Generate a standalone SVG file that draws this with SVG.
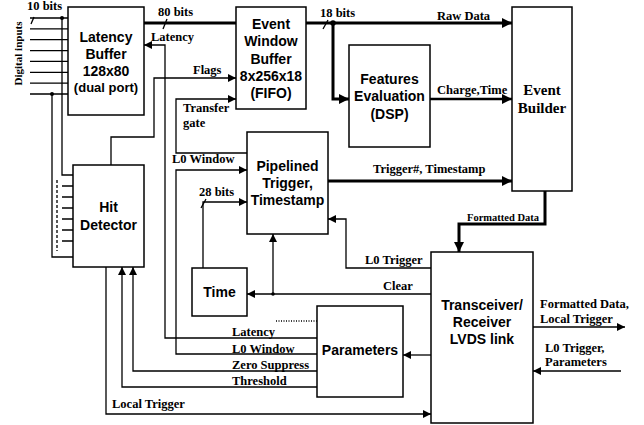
<svg xmlns="http://www.w3.org/2000/svg" width="644" height="425" viewBox="0 0 644 425">
<style>
.box{fill:#fff;stroke:#000;stroke-width:1.5}
.bt{font-family:"Liberation Sans",Arial,sans-serif;font-weight:bold;font-size:14px;text-anchor:middle;fill:#000}
.lb{font-family:"Liberation Serif","Times New Roman",serif;font-weight:bold;font-size:12.5px;fill:#000}
.w{fill:none;stroke:#000;stroke-width:1.3}
.tk{fill:none;stroke:#000;stroke-width:3}
.md{fill:none;stroke:#000;stroke-width:2.3}
</style>
<defs>
<marker id="a" viewBox="0 0 10 10" refX="10" refY="5" markerUnits="userSpaceOnUse" markerWidth="9" markerHeight="8" orient="auto"><path d="M0,0 L10,5 L0,10 z" fill="#000"/></marker>
<marker id="A" viewBox="0 0 10 10" refX="10" refY="5" markerUnits="userSpaceOnUse" markerWidth="12" markerHeight="10" orient="auto"><path d="M0,0 L10,5 L0,10 z" fill="#000"/></marker>
</defs>
<rect width="644" height="425" fill="#fff"/>

<g id="connectors">
  <!-- digital inputs -->
  <path class="w" d="M30,18H68M30,28.9H68M30,39.7H68M30,50.6H68M30,61.4H68M30,72.3H68M30,83.1H68M30,94H68"/>
  <path class="w" d="M62,18V175H73"/>
  <path class="w" d="M52,94V257H73"/>
  <path class="w" d="M57,180V251" stroke-dasharray="3,2"/>
  <path class="w" d="M62,186H73M62,197H73M62,208H73M62,219H73M62,230H73M62,241H73"/>
  <circle cx="62" cy="18" r="2"/>
  <circle cx="52" cy="94" r="2"/>
  <path class="w" d="M31,24L34,17"/>
  <!-- 80 bits -->
  <path class="tk" d="M144,23H236"/>
  <path class="w" d="M163,29L167,19"/>
  <!-- latency -->
  <path class="w" d="M317,338H165V45H144" marker-end="url(#a)"/>
  <!-- flags -->
  <path class="w" d="M111,165V137H154V78H236" marker-end="url(#a)"/>
  <!-- transfer gate -->
  <path class="w" d="M247,153H176V99H236" marker-end="url(#a)"/>
  <!-- L0 window -->
  <path class="w" d="M317,354H176V170H247" marker-end="url(#a)"/>
  <!-- 28 bits -->
  <path class="w" d="M203,268V202H247" marker-end="url(#a)"/>
  <path class="w" d="M201,208L206,199"/>
  <!-- 18 bits / raw data -->
  <path class="tk" d="M306,23H512" marker-end="url(#A)"/>
  <path class="tk" d="M333,23V99H349" marker-end="url(#A)"/>
  <circle cx="333" cy="23" r="2.8"/>
  <path class="w" d="M323,29L328,20"/>
  <!-- charge,time -->
  <path class="md" d="M430,99H512" marker-end="url(#A)"/>
  <!-- trigger#, timestamp -->
  <path class="tk" d="M328,181H512" marker-end="url(#A)"/>
  <!-- formatted data -->
  <path class="tk" d="M545,191V224H459V252" marker-end="url(#A)"/>
  <!-- L0 trigger -->
  <path class="w" d="M431,268H346V219H328" marker-end="url(#a)"/>
  <!-- clear -->
  <path class="w" d="M431,294H247" marker-end="url(#a)"/>
  <path class="w" d="M273,294V234" marker-end="url(#a)"/>
  <circle cx="273" cy="294" r="1.8"/>
  <!-- to parameters -->
  <path class="w" d="M431,355H403" marker-end="url(#a)"/>
  <path class="w" d="M276,321H317" stroke-dasharray="1,1.5"/>
  <!-- zero suppress / threshold -->
  <path class="w" d="M317,371H133V267" marker-end="url(#a)"/>
  <path class="w" d="M317,387H122V267" marker-end="url(#a)"/>
  <!-- local trigger -->
  <path class="w" d="M106,267V414H431" marker-end="url(#a)"/>
  <!-- external -->
  <path class="w" d="M533,327H625" marker-end="url(#a)"/>
  <path class="w" d="M621,371H533" marker-end="url(#a)"/>

  <!-- labels -->
  <text class="lb" x="27" y="10">10 bits</text>
  <text class="lb" font-size="11" text-anchor="middle" transform="translate(21.5,53.5) rotate(-90)" style="font-size:11px">Digital inputs</text>
  <text class="lb" x="158" y="16">80 bits</text>
  <text class="lb" x="151" y="41">Latency</text>
  <text class="lb" x="193" y="74">Flags</text>
  <text class="lb" x="183" y="112">Transfer</text>
  <text class="lb" x="183" y="127">gate</text>
  <text class="lb" x="172" y="163">L0 Window</text>
  <text class="lb" x="199" y="196">28 bits</text>
  <text class="lb" x="320" y="17">18 bits</text>
  <text class="lb" x="437" y="19.5">Raw Data</text>
  <text class="lb" x="437" y="94">Charge,Time</text>
  <text class="lb" x="373" y="173">Trigger#, Timestamp</text>
  <text class="lb" x="467" y="221" style="font-size:10.5px">Formatted Data</text>
  <text class="lb" x="365" y="264">L0 Trigger</text>
  <text class="lb" x="383" y="290">Clear</text>
  <text class="lb" x="232" y="336">Latency</text>
  <text class="lb" x="232" y="352.5">L0 Window</text>
  <text class="lb" x="232" y="368.5">Zero Suppress</text>
  <text class="lb" x="232" y="385">Threshold</text>
  <text class="lb" x="112" y="408">Local Trigger</text>
  <text class="lb" x="540" y="308">Formatted Data,</text>
  <text class="lb" x="540" y="323">Local Trigger</text>
  <text class="lb" x="545" y="352">L0 Trigger,</text>
  <text class="lb" x="545" y="366">Parameters</text>
</g>

<g id="latency-buffer">
  <rect class="box" x="68" y="7" width="76" height="108"/>
  <text class="bt" x="106" y="42">Latency</text>
  <text class="bt" x="106" y="59">Buffer</text>
  <text class="bt" x="106" y="76">128x80</text>
  <text class="bt" x="106" y="92" style="font-size:13px">(dual port)</text>
</g>
<g id="event-window-buffer">
  <rect class="box" x="236" y="7" width="70" height="102"/>
  <text class="bt" x="271" y="28.5">Event</text>
  <text class="bt" x="271" y="46">Window</text>
  <text class="bt" x="271" y="63.5">Buffer</text>
  <text class="bt" x="271" y="81">8x256x18</text>
  <text class="bt" x="271" y="98">(FIFO)</text>
</g>
<g id="features-evaluation">
  <rect class="box" x="349" y="45" width="81" height="102"/>
  <text class="bt" x="389.5" y="83.5">Features</text>
  <text class="bt" x="389.5" y="101">Evaluation</text>
  <text class="bt" x="389.5" y="118.5">(DSP)</text>
</g>
<g id="event-builder">
  <rect class="box" x="512" y="7" width="60" height="184"/>
  <text class="lb" x="542" y="95" text-anchor="middle" style="font-size:15px">Event</text>
  <text class="lb" x="542" y="113" text-anchor="middle" style="font-size:15px">Builder</text>
</g>
<g id="hit-detector">
  <rect class="box" x="73" y="165" width="71" height="102"/>
  <text class="bt" x="108.5" y="212">Hit</text>
  <text class="bt" x="108.5" y="229.5">Detector</text>
</g>
<g id="pipelined-trigger">
  <rect class="box" x="247" y="132" width="81" height="102"/>
  <text class="bt" x="287.5" y="170.5">Pipelined</text>
  <text class="bt" x="287.5" y="187.5">Trigger,</text>
  <text class="bt" x="287.5" y="204.5">Timestamp</text>
</g>
<g id="time">
  <rect class="box" x="192" y="268" width="55" height="48"/>
  <text class="bt" x="219.5" y="297">Time</text>
</g>
<g id="parameters">
  <rect class="box" x="317" y="306" width="86" height="91"/>
  <text class="bt" x="360" y="355">Parameters</text>
</g>
<g id="transceiver">
  <rect class="box" x="431" y="252" width="102" height="171"/>
  <text class="bt" x="482" y="310">Transceiver/</text>
  <text class="bt" x="482" y="327">Receiver</text>
  <text class="bt" x="482" y="344">LVDS link</text>
</g>
</svg>
